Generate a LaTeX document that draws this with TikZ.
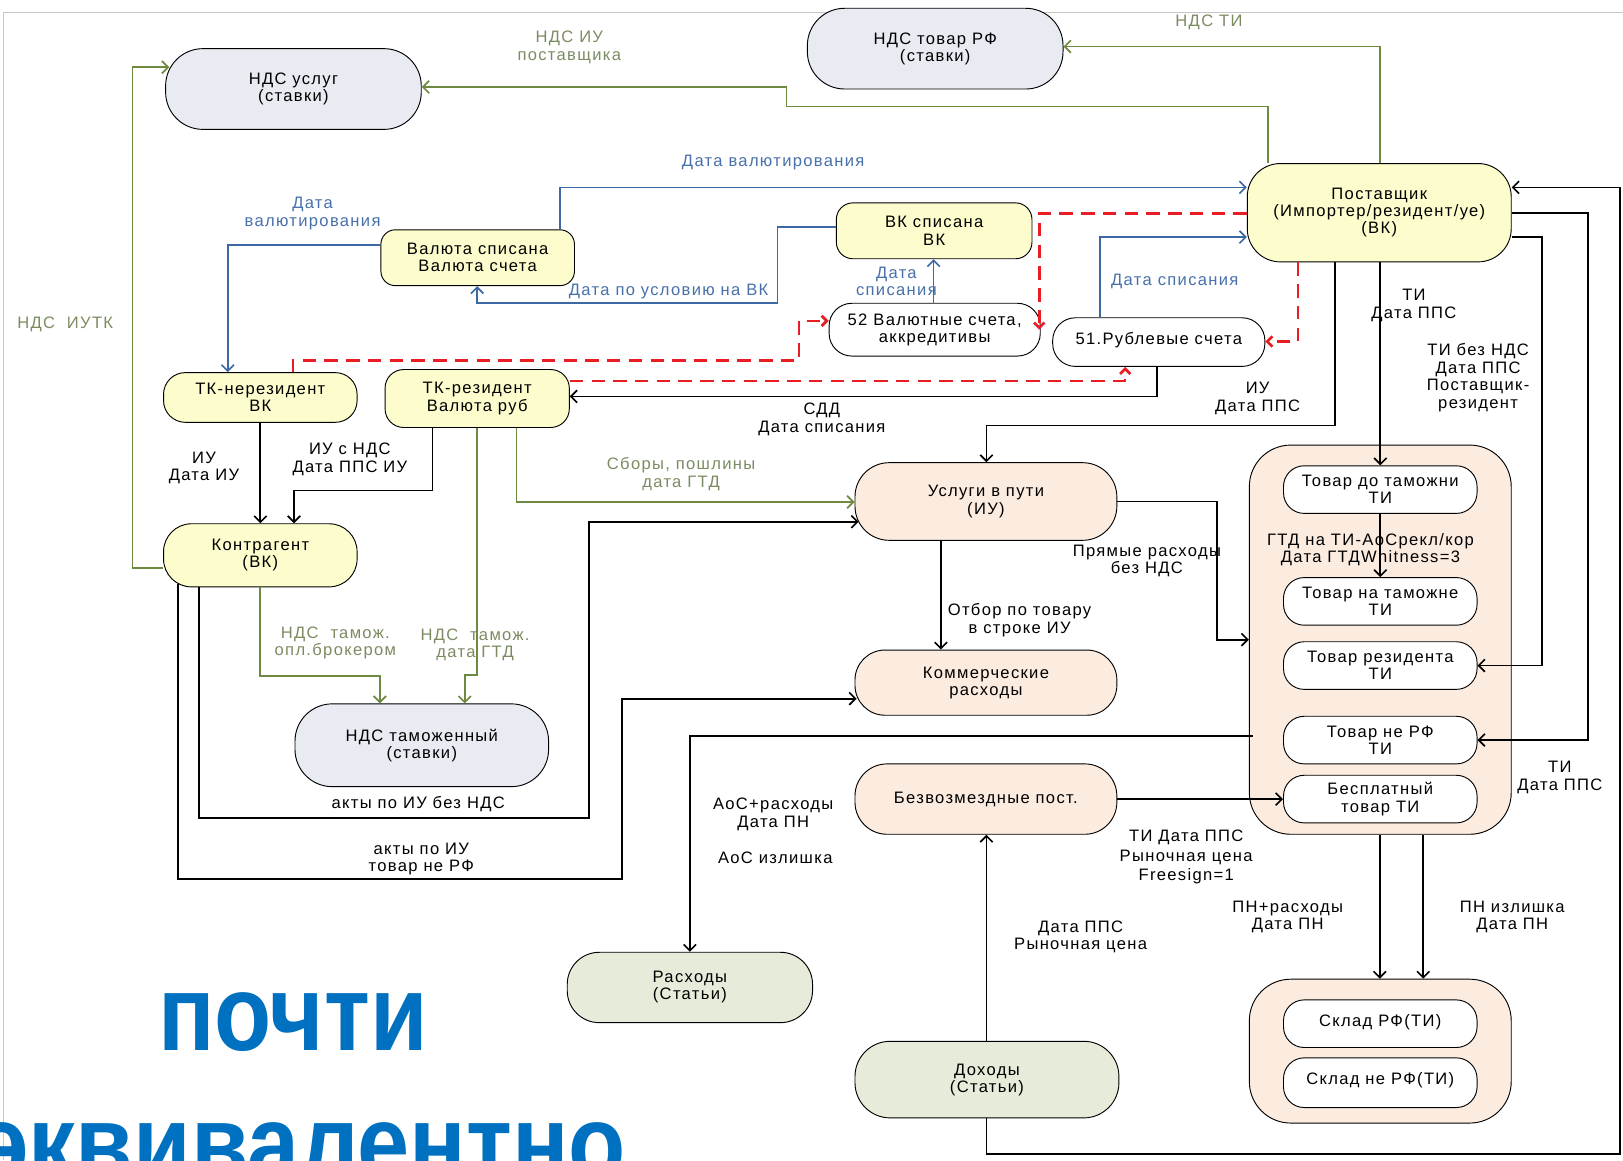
\documentclass[tikz,border=0pt]{standalone}
\usepackage{fontspec}
\setmainfont{Liberation Sans}[LetterSpace=8]
\newfontfamily\bigfont{Liberation Sans}[FakeStretch=0.87]
\usetikzlibrary{arrows.meta,calc}
\definecolor{nyel}{RGB}{252,252,204}
\definecolor{ngray}{RGB}{232,236,242}
\definecolor{npeach}{RGB}{252,236,224}
\definecolor{ngreen}{RGB}{230,235,218}
\definecolor{lgreen}{RGB}{110,138,64}
\definecolor{tgreen}{RGB}{124,140,98}
\definecolor{lblue}{RGB}{60,104,164}
\definecolor{tblue}{RGB}{72,112,170}
\definecolor{lred}{RGB}{232,30,36}
\definecolor{bigblue}{RGB}{0,112,192}
\tikzset{
  nd/.style={draw=black, line width=0.9pt, align=center, inner sep=0pt, font=\fontsize{16}{16.5}\selectfont},
  yel/.style={nd, fill=nyel},
  gry/.style={nd, fill=ngray},
  pch/.style={nd, fill=npeach},
  grn/.style={nd, fill=ngreen},
  wht/.style={nd, fill=white},
  sz/.style 2 args={minimum width=#1pt, minimum height=#2pt},
  lb/.style={align=center, inner sep=0pt, font=\fontsize{16}{17}\selectfont},
  lbg/.style={lb, text=tgreen},
  lbb/.style={lb, text=tblue},
  cn/.style={line width=1.6pt, -{Straight Barb[length=6pt,width=12pt]}},
  ablk/.style={cn, draw=black},
  agrn/.style={cn, draw=lgreen},
  ablu/.style={cn, draw=lblue},
  ared/.style={cn, draw=lred, line width=2.6pt, dash pattern=on 13pt off 8pt, -{Straight Barb[length=5pt,width=10pt]}},
  big/.style={inner sep=0pt, text=bigblue, font=\bigfont\bfseries\fontsize{104}{104}\selectfont},
}
\begin{document}
\begin{tikzpicture}[x=1pt,y=-1pt]
\useasboundingbox (0,0) rectangle (1568,1121);
\clip (0,0) rectangle (1568,1121);
\fill[white] (0,0) rectangle (1568,1121);
\draw[black!22, line width=0.8pt] (3,1121) -- (3,12) -- (1568,12);

% containers
\node[pch, sz={253}{376}, rounded corners=40pt] (grp) at (1333.5,618) {};
\node[pch, sz={253}{139}, rounded corners=40pt] (skl) at (1333.5,1015.5) {};

% nodes
\node[gry, sz={247}{78}, rounded corners=36pt] (nus) at (283.5,86) {НДС услуг\\(ставки)};
\node[gry, sz={247}{78}, rounded corners=36pt] (ntov) at (903.5,47) {НДС товар РФ\\(ставки)};
\node[yel, sz={255}{95}, rounded corners=32pt] (post) at (1332.5,205.5) {Поставщик\\(Импортер/резидент/уе)\\(ВК)};
\node[yel, sz={189}{54}, rounded corners=16pt] (vks) at (902.5,223) {ВК списана\\ВК};
\node[yel, sz={187}{54}, rounded corners=14pt] (val) at (461.5,249) {Валюта списана\\Валюта счета};
\node[wht, sz={204}{51}, rounded corners=22pt] (v52) at (903,318.5) {52 Валютные счета,\\аккредитивы};
\node[wht, sz={205}{47}, rounded corners=22pt] (r51) at (1119.5,330.5) {\raisebox{7pt}{51.Рублевые счета}};
\node[yel, sz={187}{48}, rounded corners=21pt] (tkn) at (251.5,384) {ТК-нерезидент\\ВК};
\node[yel, sz={178}{56}, rounded corners=18pt] (tkr) at (461,385) {ТК-резидент\\Валюта руб};
\node[yel, sz={187}{61}, rounded corners=27pt] (kon) at (251.5,536.5) {Контрагент\\(ВК)};
\node[gry, sz={245}{80}, rounded corners=36pt] (ntam) at (407.5,720) {НДС таможенный\\(ставки)};
\node[pch, sz={253}{75}, rounded corners=33pt] (usl) at (952.5,484.5) {Услуги в пути\\(ИУ)};
\node[pch, sz={253}{63}, rounded corners=29pt] (kom) at (952.5,659.5) {Коммерческие\\расходы};
\node[pch, sz={253}{68}, rounded corners=31pt] (bez) at (952.5,772) {Безвозмездные пост.};
\node[grn, sz={237}{68}, rounded corners=31pt] (rash) at (666.5,954) {Расходы\\(Статьи)};
\node[grn, sz={255}{74}, rounded corners=34pt] (doh) at (953.5,1043) {Доходы\\(Статьи)};
\node[wht, sz={187}{46}, rounded corners=20pt] (t1) at (1333.5,473) {Товар до таможни\\ТИ};
\node[wht, sz={187}{46}, rounded corners=20pt] (t2) at (1333.5,581) {Товар на таможне\\ТИ};
\node[wht, sz={187}{46}, rounded corners=20pt] (t3) at (1333.5,643) {Товар резидента\\ТИ};
\node[wht, sz={187}{46}, rounded corners=20pt] (t4) at (1333.5,715) {Товар не РФ\\ТИ};
\node[wht, sz={187}{46}, rounded corners=20pt] (t5) at (1333.5,772) {Бесплатный\\товар ТИ};
\node[wht, sz={187}{46}, rounded corners=20pt] (s1) at (1333.5,989) {\raisebox{6pt}{Склад РФ(ТИ)}};
\node[wht, sz={187}{48}, rounded corners=20pt] (s2) at (1333.5,1046) {\raisebox{8pt}{Склад не РФ(ТИ)}};

% green connectors
\draw[agrn] (post.north -| 1225,0) -- (1225,103) -- (760,103) -- (760,84) -- (nus.east |- 0,84);
\draw[agrn] (post.north -| 1333,0) -- (1333,45) -- (ntov.east |- 0,45);
\draw[agrn] (kon.west |- 0,549) -- (128,549) -- (128,65) -- ($(nus.west |- 0,65)+(4,0)$);
\draw[agrn] (kon.south) -- (251.5,653) -- (367,653) -- (ntam.north -| 367,0);
\draw[agrn] (tkr.south -| 461,0) -- (461,652) -- (449,652) -- (ntam.north -| 449,0);
\draw[agrn] (tkr.south -| 499,0) -- (499,485) -- ($(usl.west |- 0,485)$);

% blue connectors
\draw[ablu] (val.north -| 541,0) -- (541,181) -- (post.west |- 0,181);
\draw[ablu] (val.west |- 0,237) -- (220,237) -- (tkn.north -| 220,0);
\draw[ablu] (vks.west |- 0,219) -- (751,219) -- (751,293) -- (461,293) -- (val.south -| 461,0);
\draw[ablu] (v52.north -| 902,0) -- (vks.south -| 902,0);
\draw[ablu] (r51.north -| 1063,0) -- (1063,229) -- (post.west |- 0,229);

% red dashed connectors
\draw[ared] (post.west |- 0,206) -- (1004,206) -- (v52.east -| 1004,0);
\draw[ared] (tkn.north -| 283,0) -- (283,348) -- (772,348) -- (772,310) -- (v52.west |- 0,310);
\draw[ared] (post.south -| 1254,0) -- (1254,330) -- (r51.east |- 0,330);
\draw[ared] (tkr.east |- 0,368) -- (1087,368) -- (r51.south -| 1087,0);

% black connectors
\draw[ablk] (r51.south -| 1118,0) -- (1118,383) -- (tkr.east |- 0,383);
\draw[ablk] (post.south -| 1290,0) -- (1290,411) -- (953,411) -- (usl.north -| 953,0);
\draw[ablk] (post.south -| 1333.5,0) -- (t1.north);
\draw[ablk] (post.east |- 0,229) -- (1490,229) -- (1490,643) -- (t3.east);
\draw[ablk] (post.east |- 0,206) -- (1534,206) -- (1534,715) -- (t4.east);
\draw[ablk] (doh.south -| 953,0) -- (953,1115) -- (1565,1115) -- (1565,181) -- (post.east |- 0,181);
\draw[ablk] (tkn.south) -- (kon.north);
\draw[ablk] (tkr.south -| 418,0) -- (418,474) -- (284,474) -- (kon.north -| 284,0);
\draw[ablk] (kon.south -| 192,0) -- (192,790) -- (569,790) -- (569,504) -- ($(usl.west |- 0,504)+(4,0)$);
\draw[ablk] ($(kon.south -| 172,0)+(0,-3)$) -- (172,849) -- (601,849) -- (601,675) -- ($(kom.west |- 0,675)+(2,0)$);
\draw[ablk] (usl.south -| 909,0) -- (kom.north -| 909,0);
\draw[ablk] (usl.east) -- (1176,484.5) -- (1176,618) -- (grp.west);
\draw[ablk] ($(grp.west |- 0,711)+(4,0)$) -- (rash.north |- 0,711) -- (rash.north);
\draw[ablk] (bez.east) -- (t5.west);
\draw[ablk] (doh.north -| 953,0) -- (bez.south -| 953,0);
\draw[ablk] (grp.south -| 1333,0) -- (skl.north -| 1333,0);
\draw[ablk] (grp.south -| 1375,0) -- (skl.north -| 1375,0);
\draw[ablk] (t1.south) -- (t2.north);

% labels
\node[lbg] (l1) at (550,46) {НДС ИУ\\поставщика};
\node[lbg] (l2) at (1168,22) {НДС ТИ};
\node[lbg] (l3) at (63,313) {НДС\ \ ИУТК};
\node[lbg] (l4) at (324,621) {НДС\ \ тамож.\\опл.брокером};
\node[lbg] (l5) at (459,623) {НДС\ \ тамож.\\дата ГТД};
\node[lbg] (l6) at (658,458) {Сборы, пошлины\\дата ГТД};
\node[lbb] (l7) at (747,157) {Дата валютирования};
\node[lbb] (l8) at (302,206) {Дата\\валютирования};
\node[lbb] (l9) at (646,282) {Дата по условию на ВК};
\node[lbb] (l10) at (866,272) {Дата\\списания};
\node[lbb] (l11) at (1135,272) {Дата списания};
\node[lb] (l12) at (1366,295) {ТИ\\Дата ППС};
\node[lb] (l13) at (1428,365) {ТИ без НДС\\Дата ППС\\Поставщик-\\резидент};
\node[lb] (l14) at (1215,385) {ИУ\\Дата ППС};
\node[lb] (l15) at (794,405) {СДД\\Дата списания};
\node[lb] (l16) at (197,452) {ИУ\\Дата ИУ};
\node[lb] (l17) at (338,444) {ИУ с НДС\\Дата ППС ИУ};
\node[lb] (l18) at (1108,542) {Прямые расходы\\без НДС};
\node[lb] (l19) at (985,599) {Отбор по товару\\в строке ИУ};
\node[lb] (l20) at (1324,531) {ГТД на ТИ-АоСрекл/кор\\Дата ГТДWhitness=3};
\node[lb] (l21) at (404,777) {акты по ИУ без НДС};
\node[lb] (l22) at (747,787) {АоС+расходы\\Дата ПН};
\node[lb] (l23) at (749,829) {АоС излишка};
\node[lb] (l24) at (407,830) {акты по ИУ\\товар не РФ};
\node[lb, font=\fontsize{16}{19}\selectfont] (l25) at (1146,828) {ТИ Дата ППС\\Рыночная цена\\Freesign=1};
\node[lb] (l26) at (1507,751) {ТИ\\Дата ППС};
\node[lb] (l27) at (1244,886) {ПН+расходы\\Дата ПН};
\node[lb] (l28) at (1461,886) {ПН излишка\\Дата ПН};
\node[lb] (l29) at (1044,905) {Дата ППС\\Рыночная цена};

% big text
\node[big, anchor=base] (w1) at (283,1015) {почти};
\node[big, anchor=base east] (w2) at (605,1140) {эквивалентно};
\end{tikzpicture}
\end{document}
